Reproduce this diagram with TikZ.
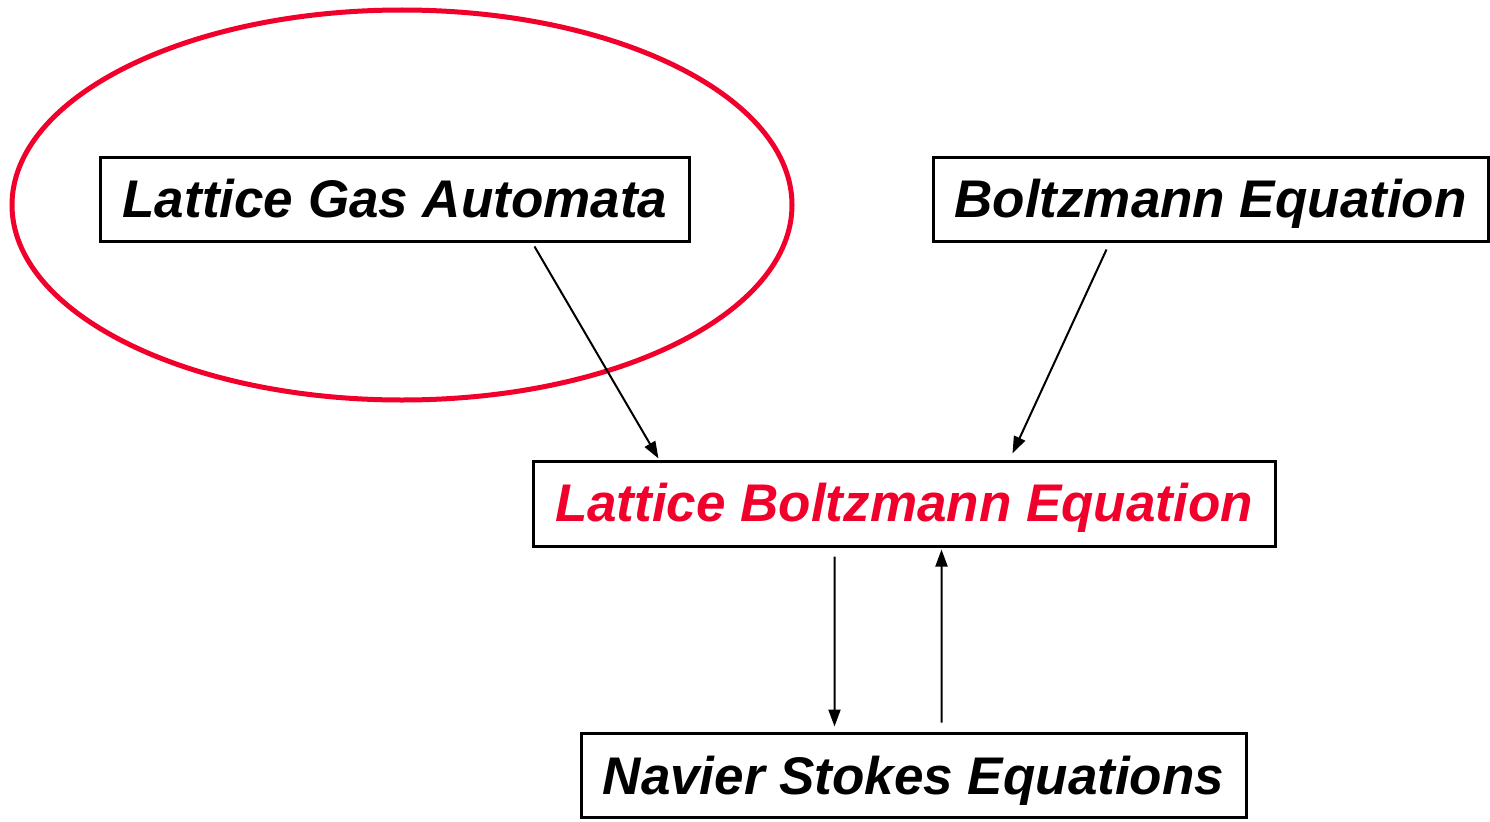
\documentclass[tikz,border=0pt]{standalone}
\usepackage{fontspec}
\setmainfont{Liberation Sans}
\usetikzlibrary{arrows.meta,calc}
\definecolor{lbred}{RGB}{240,0,42}
\begin{document}
\begin{tikzpicture}[x=1bp,y=-1bp,
  box/.style={draw=black,line width=3bp,inner sep=0pt,minimum height=84bp,
    text height=40bp,text depth=4bp,
    font=\fontsize{53bp}{60bp}\selectfont\bfseries\itshape},
  conn/.style={line width=2bp,-{Triangle[length=17bp,width=12bp]}}]
\useasboundingbox (0,0) rectangle (1490,821);
\draw[lbred,line width=5bp] (402,205) ellipse [x radius=390,y radius=195];
\node[box,minimum width=588bp] (lga) at (395,199) {Lattice Gas Automata};
\node[box,minimum width=555bp] (be) at (1210.5,199) {Boltzmann Equation};
\node[box,minimum width=742bp,text=lbred,minimum height=85bp] (lbe) at (904,503.5) {Lattice Boltzmann Equation};
\node[box,minimum width=665bp,text depth=1bp] (ns) at (913.5,775) {Navier Stokes Equations};
\coordinate (a1s) at ($(lga.south west)+(435,4)$);
\coordinate (a1e) at ($(lbe.north west)+(127,-1)$);
\coordinate (a2s) at ($(be.south west)+(175,7)$);
\coordinate (a2e) at ($(lbe.north west)+(481,-6)$);
\coordinate (a3s) at ($(lbe.south west)+(303,9)$);
\coordinate (a3e) at ($(ns.north west)+(255,-5)$);
\coordinate (a4s) at ($(ns.north west)+(362,-9)$);
\coordinate (a4e) at ($(lbe.south west)+(410,2)$);
\draw[conn] (a1s) -- (a1e);
\draw[conn] (a2s) -- (a2e);
\draw[conn] (a3s) -- (a3e);
\draw[conn] (a4s) -- (a4e);
\end{tikzpicture}
\end{document}
